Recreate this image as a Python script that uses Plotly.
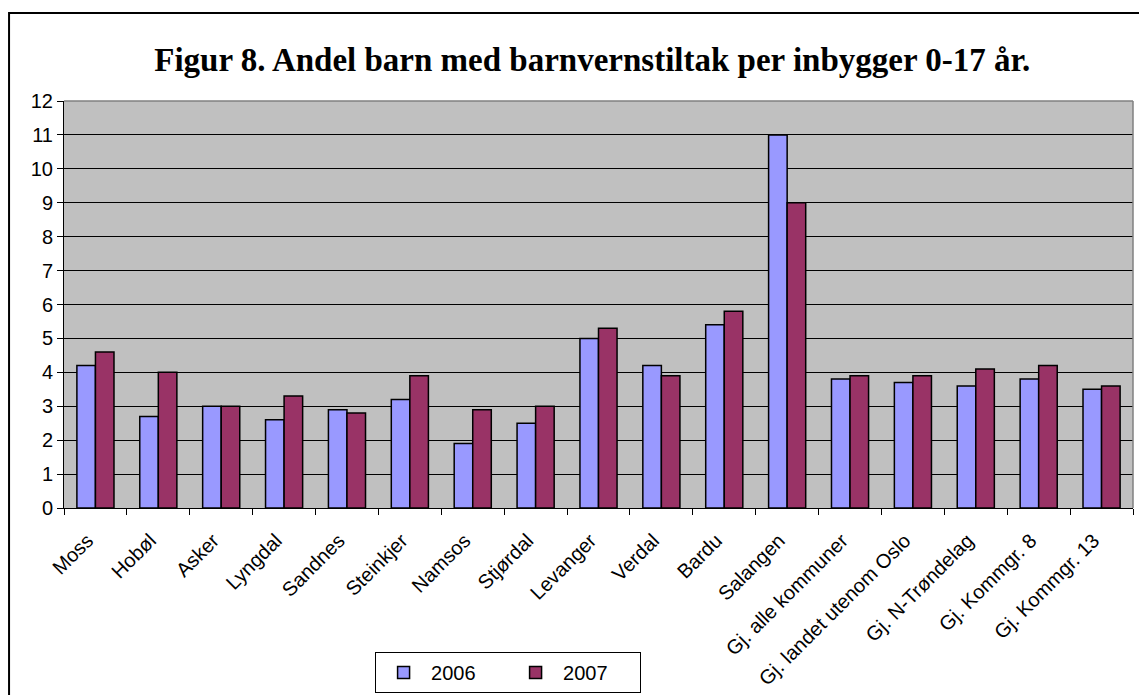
import plotly.graph_objects as go

steder = ['Moss', 'Hobøl', 'Asker', 'Lyngdal', 'Sandnes', 'Steinkjer', 'Namsos',
          'Stjørdal', 'Levanger', 'Verdal', 'Bardu', 'Salangen', 'Gj. alle kommuner',
          'Gj. landet utenom Oslo', 'Gj. N-Trøndelag', 'Gj. Kommgr. 8', 'Gj. Kommgr. 13']
andel_2006 = [4.2, 2.7, 3.0, 2.6, 2.9, 3.2, 1.9, 2.5, 5.0, 4.2, 5.4, 11.0, 3.8, 3.7, 3.6, 3.8, 3.5]
andel_2007 = [4.6, 4.0, 3.0, 3.3, 2.8, 3.9, 2.9, 3.0, 5.3, 3.9, 5.8, 9.0, 3.9, 3.9, 4.1, 4.2, 3.6]
y_ticks = list(range(0, 13))

fig = go.Figure()
fig.add_trace(go.Bar(x=steder, y=andel_2006, name='2006',
                     marker=dict(color='#9999FF', line=dict(color='black', width=1.5))))
fig.add_trace(go.Bar(x=steder, y=andel_2007, name='2007',
                     marker=dict(color='#993366', line=dict(color='black', width=1.5))))

fig.update_layout(
    width=1139, height=695,
    margin=dict(l=64, r=6, t=101, b=187, autoexpand=False),
    paper_bgcolor='white',
    plot_bgcolor='#C0C0C0',
    barmode='group',
    bargap=0.41,
    bargroupgap=0,
    font=dict(family='Liberation Sans, Arial', size=20, color='black'),
    title=dict(text='<b>Figur 8. Andel barn med barnvernstiltak per inbygger 0-17 år.</b>',
               font=dict(family='Liberation Serif, Times New Roman', size=33, color='black'),
               x=0.52, xanchor='center', y=0.915, yanchor='middle'),
    legend=dict(orientation='h', x=0.291, y=-0.354, xanchor='left', yanchor='top',
                bordercolor='black', borderwidth=1, bgcolor='white',
                entrywidth=72, entrywidthmode='pixels', itemwidth=45,
                font=dict(size=20), traceorder='normal'),
    showlegend=True,
)

fig.update_xaxes(type='category', tickangle=-45, tickson='boundaries',
                 ticks='outside', ticklen=6, tickcolor='black',
                 ticklabelstandoff=12, ticklabelshift=-8,
                 showline=True, linecolor='black', linewidth=1,
                 showgrid=False, tickfont=dict(size=20), automargin=False)
fig.update_yaxes(range=[0, 12], tickvals=y_ticks, ticks='outside', ticklen=6,
                 tickcolor='black', showline=True, linecolor='black', linewidth=1,
                 showgrid=True, gridcolor='black', gridwidth=1, zeroline=False,
                 automargin=False)

# grå kant oppe og til høyre
fig.add_shape(type='line', xref='paper', yref='paper', x0=0, x1=1, y0=1, y1=1,
              line=dict(color='#808080', width=1.5))
fig.add_shape(type='line', xref='paper', yref='paper', x0=1, x1=1, y0=0, y1=1,
              line=dict(color='#808080', width=1.5))
# ramme rundt hele diagrammet
fig.add_shape(type='rect', xref='paper', yref='paper', x0=-0.0514, x1=1.03, y0=-0.5, y1=1.216,
              line=dict(color='black', width=2), fillcolor='rgba(0,0,0,0)')

fig.write_html('out.html', config={'displayModeBar': False},
               post_script="document.body.style.margin='0';")
